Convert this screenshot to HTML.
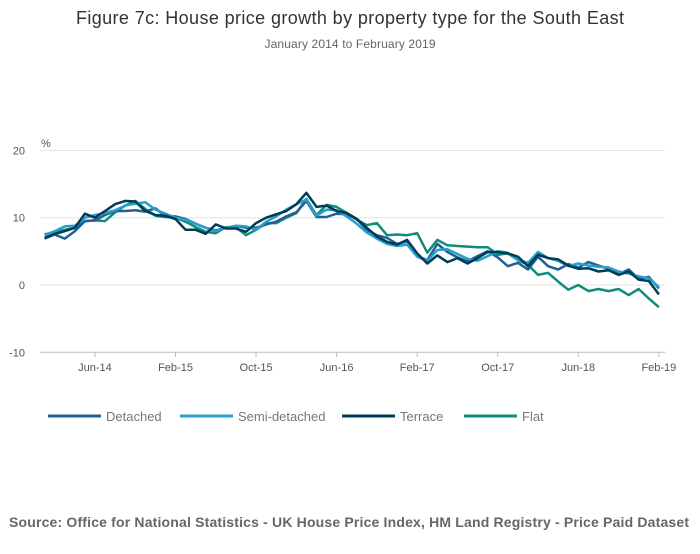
<!DOCTYPE html>
<html><head><meta charset="utf-8"><style>
body{margin:0;background:#fff;font-family:"Liberation Sans",sans-serif;}
svg text{font-family:"Liberation Sans",sans-serif;}
</style></head><body>
<svg width="700" height="549">
<text x="350" y="24" text-anchor="middle" font-size="18" fill="#333" textLength="548">Figure 7c: House price growth by property type for the South East</text>
<text x="350" y="48" text-anchor="middle" font-size="12" fill="#666" textLength="171">January 2014 to February 2019</text>
<text x="41" y="147" font-size="11" fill="#555">%</text>
<g id="grid"></g><g id="series"></g>
<text x="9" y="527" font-size="14" font-weight="bold" fill="#666" textLength="680">Source: Office for National Statistics - UK House Price Index, HM Land Registry - Price Paid Dataset</text>
</svg>
<script>
const yTicks=[20,10,0,-10];
const xTickLabels=["Jun-14","Feb-15","Oct-15","Jun-16","Feb-17","Oct-17","Jun-18","Feb-19"];
const xTickIndex=[5,13,21,29,37,45,53,61];
const seriesNames=["Detached","Semi-detached","Terrace","Flat"];
const detached=[6.9,7.5,6.9,8,9.5,9.6,10.4,11,11,11.1,10.9,11.4,10.2,10.2,9.8,9.1,8.5,8.1,8.5,8.8,8.5,8.5,9,9.4,10.2,10.8,12.5,10.1,10.1,10.6,10.5,9.8,8.2,7.4,7.0,6.1,6.5,4.3,3.7,6.1,4.9,4.1,3.5,4.3,5.0,4.1,2.8,3.3,2.3,4.2,2.8,2.3,3.1,2.6,3.4,2.9,2.4,1.6,2.3,0.9,1.2,-0.5];
const semi=[7.4,8.0,8.7,8.8,10.0,10.4,10.7,11.1,11.8,12.1,12.3,11.2,10.6,10.0,9.7,9.1,8.5,8.0,8.5,8.8,8.7,8.2,9.4,10.2,11.2,12.0,12.7,10.3,11.2,11.1,10.2,9.1,7.8,6.9,6.1,5.8,6.0,4.2,3.6,5.2,5.3,4.6,3.9,3.6,4.3,5.0,4.8,3.7,3.3,4.9,4.0,3.6,2.8,3.2,2.9,2.7,2.6,2.0,1.7,1.3,1.0,-0.3];
const terrace=[7.0,7.6,8.0,8.5,10.6,10.0,11.0,12.0,12.5,12.4,11.0,10.4,10.3,9.8,8.2,8.2,7.6,9.0,8.4,8.4,7.9,9.2,10.0,10.5,11.0,12.0,13.7,11.6,11.8,11.0,10.7,9.8,8.5,7.2,6.4,6.0,6.7,4.7,3.2,4.4,3.4,4.0,3.2,4.0,4.9,4.9,4.7,4.2,2.8,4.5,4.0,3.8,2.9,2.4,2.5,2.0,2.2,1.5,2.0,0.8,0.6,-1.4];
const flat=[7.5,7.9,8.2,8.5,9.5,9.6,9.5,10.8,11.8,12.5,11.3,10.3,10.1,10.0,9.4,8.6,7.9,7.7,8.6,8.6,7.4,8.2,9.2,9.2,10.0,10.7,12.8,10.4,11.9,11.6,10.7,9.7,8.9,9.2,7.4,7.5,7.4,7.7,4.8,6.7,5.9,5.8,5.7,5.6,5.6,4.5,4.7,3.7,3.0,1.5,1.8,0.5,-0.7,0,-0.9,-0.6,-0.9,-0.6,-1.5,-0.6,-2.0,-3.3];
const colors=["#206095","#27a0cc","#003c57","#118c7b"];
const NS="http://www.w3.org/2000/svg";
const X=i=>44.6+10.07*i, Y=v=>285-6.73*v;
function mk(t,a,p){const e=document.createElementNS(NS,t);for(const k in a)e.setAttribute(k,a[k]);p.appendChild(e);return e;}
const grid=document.getElementById('grid'), ser=document.getElementById('series');
yTicks.forEach(v=>{
 const l=mk('line',{x1:40,x2:665,y1:Y(v),y2:Y(v),stroke:v===-10?'#bbb':'#e2e2e2','stroke-width':1},grid);
 
 
 const t=mk('text',{x:25,y:Y(v)+4,'text-anchor':'end','font-size':11,fill:'#555'},grid);
 t.textContent=v;
 
 
});
xTickLabels.forEach((s,k)=>{
 const x=X(xTickIndex[k]);
 const l=mk('line',{x1:x,x2:x,y1:352,y2:357,stroke:'#bbb'},grid);
 
 
 const t=mk('text',{x:x,y:371,'text-anchor':'middle','font-size':11,fill:'#555'},grid);
 t.textContent=s;
 
 
});
const all=[detached,semi,terrace,flat];
[3,0,1,2].forEach(s=>{
 const d=all[s].map((v,i)=>(i?'L':'M')+X(i).toFixed(1)+','+Y(v).toFixed(1)).join('');
 const p=mk('path',{d:d,fill:'none',stroke:colors[s],'stroke-width':2.5,'stroke-linejoin':'round'},ser);
 
 
});
const lx=[48,180,342,464];
seriesNames.forEach((n,s)=>{
 const g=mk('g',{},ser);
 
 
 mk('line',{x1:lx[s],x2:lx[s]+53,y1:416,y2:416,stroke:colors[s],'stroke-width':3},g);
 const t=mk('text',{x:lx[s]+58,y:421,'font-size':13,fill:'#777'},g);
 t.textContent=n;
});
</script>
</body></html>
